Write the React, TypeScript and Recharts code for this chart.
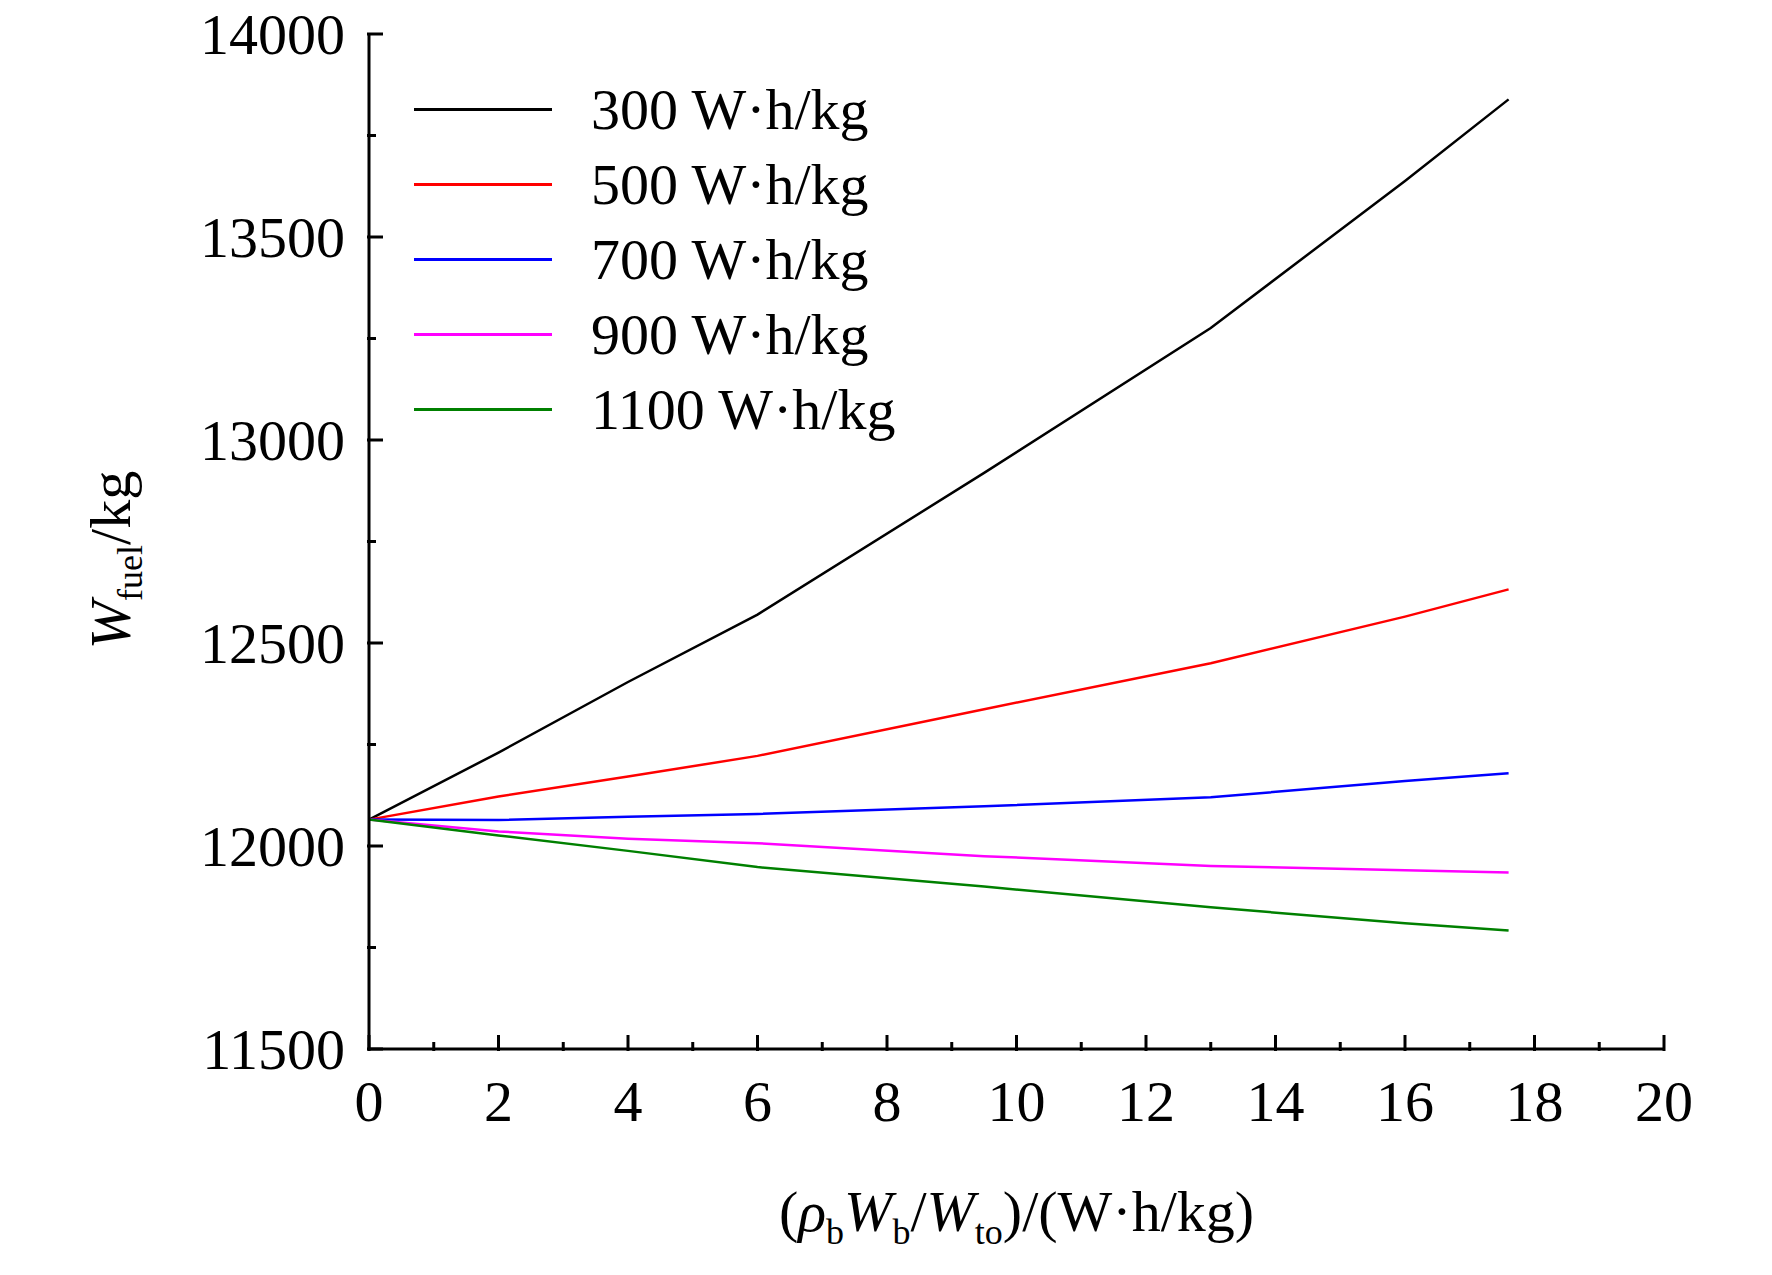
import { LineChart, Line, XAxis, YAxis } from "recharts";

const xs = [0, 2, 4, 6, 9.5, 13, 16, 17.6];
const s300 = [12065, 12230, 12404, 12570, 12919, 13276, 13638, 13839];
const s500 = [12065, 12122, 12171, 12222, 12337, 12450, 12565, 12632];
const s700 = [12065, 12064, 12072, 12079, 12098, 12120, 12160, 12179];
const s900 = [12065, 12036, 12018, 12007, 11975, 11951, 11940, 11935];
const s1100 = [12065, 12026, 11988, 11948, 11900, 11849, 11810, 11792];

const xTicks = Array.from({ length: 21 }, (_, i) => i);
const yTicks = Array.from({ length: 11 }, (_, i) => 11500 + i * 250);

const series = [
  { key: "a", name: "300 W·h/kg", color: "#000000", vals: s300 },
  { key: "b", name: "500 W·h/kg", color: "#ff0000", vals: s500 },
  { key: "c", name: "700 W·h/kg", color: "#0000ff", vals: s700 },
  { key: "d", name: "900 W·h/kg", color: "#ff00ff", vals: s900 },
  { key: "e", name: "1100 W·h/kg", color: "#008000", vals: s1100 },
];

const data = xs.map((x, i) => {
  const row: Record<string, number> = { x };
  series.forEach((s) => (row[s.key] = s.vals[i]));
  return row;
});

const FONT = "'Liberation Serif', 'Times New Roman', serif";

const XTick = (p: any) => {
  const v = p.payload.value;
  const major = v % 2 === 0;
  return (
    <g>
      <line x1={p.x} x2={p.x} y1={p.y} y2={p.y - (major ? 16 : 9)} stroke="#000" strokeWidth={3} />
      {major && (
        <text x={p.x} y={p.y + 70} textAnchor="middle" fontSize={58} fontFamily={FONT} fill="#000">
          {v}
        </text>
      )}
    </g>
  );
};

const YTick = (p: any) => {
  const v = p.payload.value;
  const major = v % 500 === 0;
  return (
    <g>
      <line x1={p.x} x2={p.x + (major ? 16 : 9)} y1={p.y} y2={p.y} stroke="#000" strokeWidth={3} />
      {major && (
        <text x={p.x - 22} y={p.y + 20} textAnchor="end" fontSize={58} fontFamily={FONT} fill="#000">
          {v}
        </text>
      )}
    </g>
  );
};

export default function App() {
  return (
    <div style={{ position: "absolute", left: 0, top: 0, width: 1772, height: 1275, background: "#fff", fontFamily: FONT }}>
      <LineChart width={1772} height={1275} data={data} margin={{ top: 34, right: 108, bottom: 196, left: 20 }}>
        <XAxis dataKey="x" type="number" domain={[0, 20]} ticks={xTicks} interval={0} tickLine={false} tickSize={0}
          tick={<XTick />} axisLine={{ stroke: "#000", strokeWidth: 3 }} />
        <XAxis xAxisId="top" orientation="top" dataKey="x" type="number" domain={[0, 20]} tick={false} tickLine={false}
          axisLine={{ stroke: "#000", strokeWidth: 3 }} height={0} />
        <YAxis type="number" domain={[11500, 14000]} ticks={yTicks} interval={0} width={349} tickLine={false} tickSize={0}
          tick={<YTick />} axisLine={{ stroke: "#000", strokeWidth: 3 }} />
        <YAxis yAxisId="right" orientation="right" type="number" domain={[11500, 14000]} tick={false} tickLine={false} width={0}
          axisLine={{ stroke: "#000", strokeWidth: 3 }} />
        <Line xAxisId="top" yAxisId="right" dataKey="a" stroke="none" dot={false} legendType="none" isAnimationActive={false} />
        {series.map((s) => (
          <Line key={s.key} dataKey={s.key} name={s.name} stroke={s.color} strokeWidth={2.5} dot={false}
            type="linear" isAnimationActive={false} />
        ))}
      </LineChart>
      {series.map((s, i) => (
        <div key={s.key} style={{ position: "absolute", left: 414, top: 74 + i * 75, height: 70, display: "flex", alignItems: "center" }}>
          <div style={{ width: 138, height: 3, background: s.color }} />
          <span style={{ marginLeft: 39, fontSize: 58, color: "#000", whiteSpace: "nowrap" }}>{s.name}</span>
        </div>
      ))}
      <div style={{ position: "absolute", left: 0, width: 1772 - 108 + 369, top: 1178, textAlign: "center", fontSize: 58, whiteSpace: "nowrap" }}>
        (<i>ρ</i><sub style={{ fontSize: 36 }}>b</sub><i>W</i><sub style={{ fontSize: 36 }}>b</sub>/<i>W</i><sub style={{ fontSize: 36 }}>to</sub>)/(W·h/kg)
      </div>
      <div style={{ position: "absolute", left: 114, top: 560, transform: "translate(-50%, -50%) rotate(-90deg)", fontSize: 58, whiteSpace: "nowrap" }}>
        <i>W</i><sub style={{ fontSize: 36 }}>fuel</sub>/kg
      </div>
    </div>
  );
}
